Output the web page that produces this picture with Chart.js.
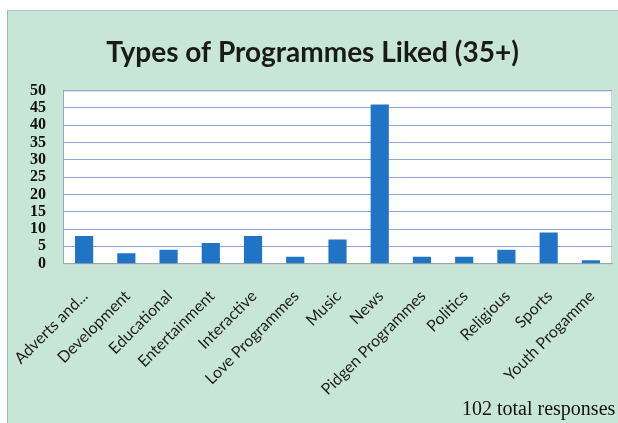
<!DOCTYPE html>
<html>
<head>
<meta charset="utf-8">
<script src="https://cdn.jsdelivr.net/npm/chart.js@4.4.1/dist/chart.umd.min.js"></script>
<style>
  html, body { margin: 0; padding: 0; background: #fff; }
  #panel {
    position: absolute; left: 7px; top: 10px; width: 620px; height: 420px;
    background: #c7e6d7; border-left: 1px solid #9fb8ae; border-top: 1px solid #b3c9d6;
  }
  #wrap { position: absolute; left: 0; top: 0; width: 618px; height: 423px; }
  #note {
    position: absolute; left: 462px; top: 397px; white-space: nowrap;
    font-family: "Liberation Serif", serif; font-size: 20px; color: #111;
  }
</style>
</head>
<body>
<div id="panel"></div>
<div id="wrap"><canvas id="chart" width="618" height="423"></canvas></div>
<div id="note">102 total responses</div>
<script>
// Chart data
const categories = ['Adverts and...', 'Development', 'Educational', 'Entertainment', 'Interactive',
  'Love Programmes', 'Music', 'News', 'Pidgen Programmes', 'Politics', 'Religious', 'Sports', 'Youth Progamme'];
const responses = [8, 3, 4, 6, 8, 2, 7, 46, 2, 2, 4, 9, 1];
const yTicks = [0, 5, 10, 15, 20, 25, 30, 35, 40, 45, 50];

// white plot area behind the bars
const plotBackground = {
  id: 'plotBackground',
  beforeDraw(chart) {
    const { ctx, chartArea } = chart;
    ctx.save();
    ctx.fillStyle = '#ffffff';
    ctx.fillRect(chartArea.left, chartArea.top, chartArea.right - chartArea.left, chartArea.bottom - chartArea.top);
    ctx.strokeStyle = '#c9d3d8';
    ctx.lineWidth = 1;
    ctx.strokeRect(chartArea.left + 0.5, chartArea.top + 0.5, chartArea.right - chartArea.left - 1, chartArea.bottom - chartArea.top);
    ctx.restore();
  }
};

const ctx = document.getElementById('chart').getContext('2d');
const chart = new Chart(ctx, {
  type: 'bar',
  data: {
    labels: categories,
    datasets: [{
      data: responses,
      backgroundColor: '#1f74c6',
      barPercentage: 0.43,
      categoryPercentage: 1
    }]
  },
  options: {
    responsive: false,
    animation: false,
    layout: { padding: { left: 13, right: 6, top: 0, bottom: 9 } },
    plugins: {
      legend: { display: false },
      tooltip: { enabled: false },
      title: {
        display: true,
        text: 'Types of Programmes Liked (35+)',
        color: '#1a1a1a',
        font: { family: 'Lato', size: 28, weight: 'bold' },
        padding: { top: 36, bottom: 21 }
      }
    },
    scales: {
      x: {
        // labels may hang past the plot edges, as in the original
        afterFit(scale) { scale.paddingRight = 0; scale.paddingLeft = 0; },
        grid: { display: false },
        border: { display: true, color: '#9aa6b0' },
        ticks: {
          color: '#1e1e1e',
          font: { family: 'Lato', size: 16 },
          minRotation: 45,
          maxRotation: 45,
          autoSkip: false,
          labelOffset: 1,
          padding: 15
        }
      },
      y: {
        min: 0,
        max: 50,
        afterBuildTicks(axis) { axis.ticks = yTicks.map(v => ({ value: v })); },
        grid: { color: '#8fa8d4', drawTicks: false },
        border: { display: true, color: '#9aa6b0' },
        ticks: {
          color: '#111',
          font: { family: 'Liberation Serif', size: 16, weight: 'bold' },
          autoSkip: false,
          padding: 17
        }
      }
    }
  },
  plugins: [plotBackground]
});
</script>
</body>
</html>
